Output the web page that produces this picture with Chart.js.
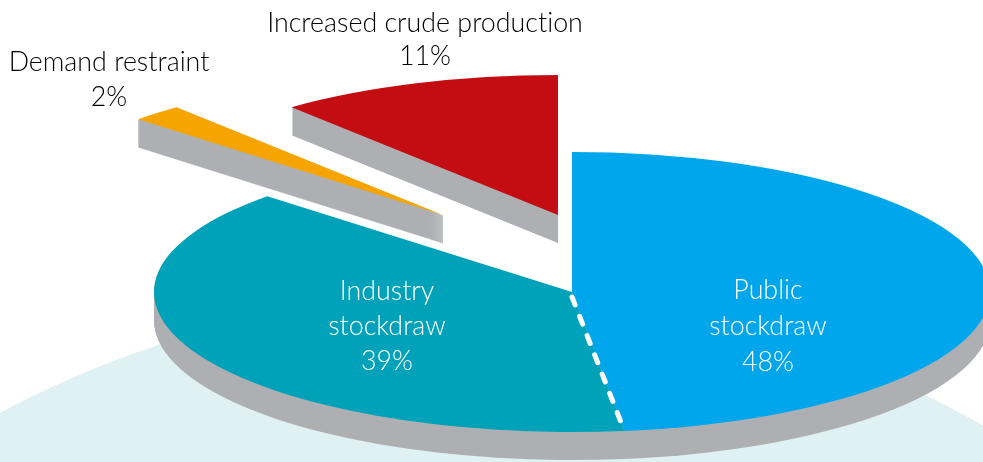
<!DOCTYPE html>
<html>
<head>
<meta charset="utf-8">
<style>html,body{margin:0;padding:0;background:#fff}canvas{display:block}</style>
<script src="https://cdn.jsdelivr.net/npm/chart.js@4"></script>
</head>
<body>
<canvas id="c" width="983" height="462"></canvas>
<script>
const categories = ["Public stockdraw", "Industry stockdraw", "Demand restraint", "Increased crude production"];
const shares = [48, 39, 2, 11];
const sliceColors = ["#00A6EB", "#00A2B9", "#F6A500", "#C30D12"];
const labelLines = [["Public", "stockdraw"], ["Industry", "stockdraw"], ["Demand restraint"], ["Increased crude production"]];
const labelColors = ["#ffffff", "#ffffff", "#000000", "#000000"];

const CX = 572, CY = 292, RX = 418, RY = 140, DEPTH = 28, SIDE = "#AEAFB3", FLOOR = "#DFF1F3";
const shift = [[0,0],[0,0],[-129,-77],[-14,-77]];
const labelPos = [[768,299],[387,300],[109,71],[425,32]];
const lineGap = [36,35,35,33];
const FONT = '300 26.8px Lato, "Open Sans", sans-serif';

function place(ctx, arc, i, dy){
  const sx = RX/arc.outerRadius, sy = RY/arc.outerRadius;
  ctx.translate(CX+shift[i][0], CY+shift[i][1]+dy);
  ctx.scale(sx, sy);
  ctx.translate(-arc.x, -arc.y);
}
const pie3d = {
  id:'pie3d',
  beforeDatasetsDraw(chart){
    const ctx = chart.ctx, arcs = chart.getDatasetMeta(0).data;
    ctx.save();
    ctx.fillStyle = FLOOR;
    ctx.beginPath(); ctx.arc(480,1315,1022,0,Math.PI*2); ctx.fill();
    ctx.restore();
    for (const group of [[3,2],[1,0]]) {
      // side walls: sweep the slices on a separate layer, then flatten to one grey
      const layer = document.createElement('canvas');
      layer.width = chart.width; layer.height = chart.height;
      const lc = layer.getContext('2d');
      for (const i of group) {
        const arc = arcs[i];
        for (let d = DEPTH; d >= 1; d--) {
          lc.save();
          place(lc, arc, i, d);
          arc.draw(lc);
          if (i === 2) {
            // keep the very thin wedge tip solid
            lc.strokeStyle = sliceColors[i]; lc.lineWidth = 0.5; lc.lineJoin = 'round';
            lc.stroke();
          }
          lc.restore();
        }
      }
      lc.globalCompositeOperation = 'source-in';
      lc.fillStyle = SIDE;
      lc.fillRect(0, 0, layer.width, layer.height);
      ctx.drawImage(layer, 0, 0);
      for (const i of group) {
        ctx.save(); place(ctx, arcs[i], i, 0); arcs[i].draw(ctx); ctx.restore();
      }
    }
    // dashed divider between the two stockdraw slices
    const e = arcs[0].endAngle;
    ctx.save();
    ctx.strokeStyle = '#fff'; ctx.lineWidth = 5; ctx.lineCap = 'round';
    ctx.setLineDash([8.5,12.2]);
    ctx.beginPath();
    ctx.moveTo(CX, CY+5);
    ctx.lineTo(CX+RX*Math.cos(e), CY+RY*Math.sin(e));
    ctx.stroke();
    ctx.restore();
  },
  beforeDatasetDraw(){ return false; },
  afterDatasetsDraw(chart){
    const ctx = chart.ctx;
    ctx.save();
    ctx.font = FONT; ctx.textAlign = 'center'; ctx.textBaseline = 'alphabetic';
    ctx.letterSpacing = '0.01px';
    labelLines.forEach((lines,i)=>{
      ctx.fillStyle = labelColors[i];
      const all = lines.concat([shares[i] + '%']);
      all.forEach((t,k)=>ctx.fillText(t, labelPos[i][0], labelPos[i][1]+k*lineGap[i]));
    });
    ctx.restore();
  }
};
new Chart(document.getElementById('c'), {
  type:'pie',
  data:{labels:categories, datasets:[{data:shares, backgroundColor:sliceColors, borderWidth:0}]},
  options:{
    responsive:false, animation:false,
    layout:{padding:0},
    plugins:{legend:{display:false}, tooltip:{enabled:false}}
  },
  plugins:[pie3d]
});
</script>
</body>
</html>
